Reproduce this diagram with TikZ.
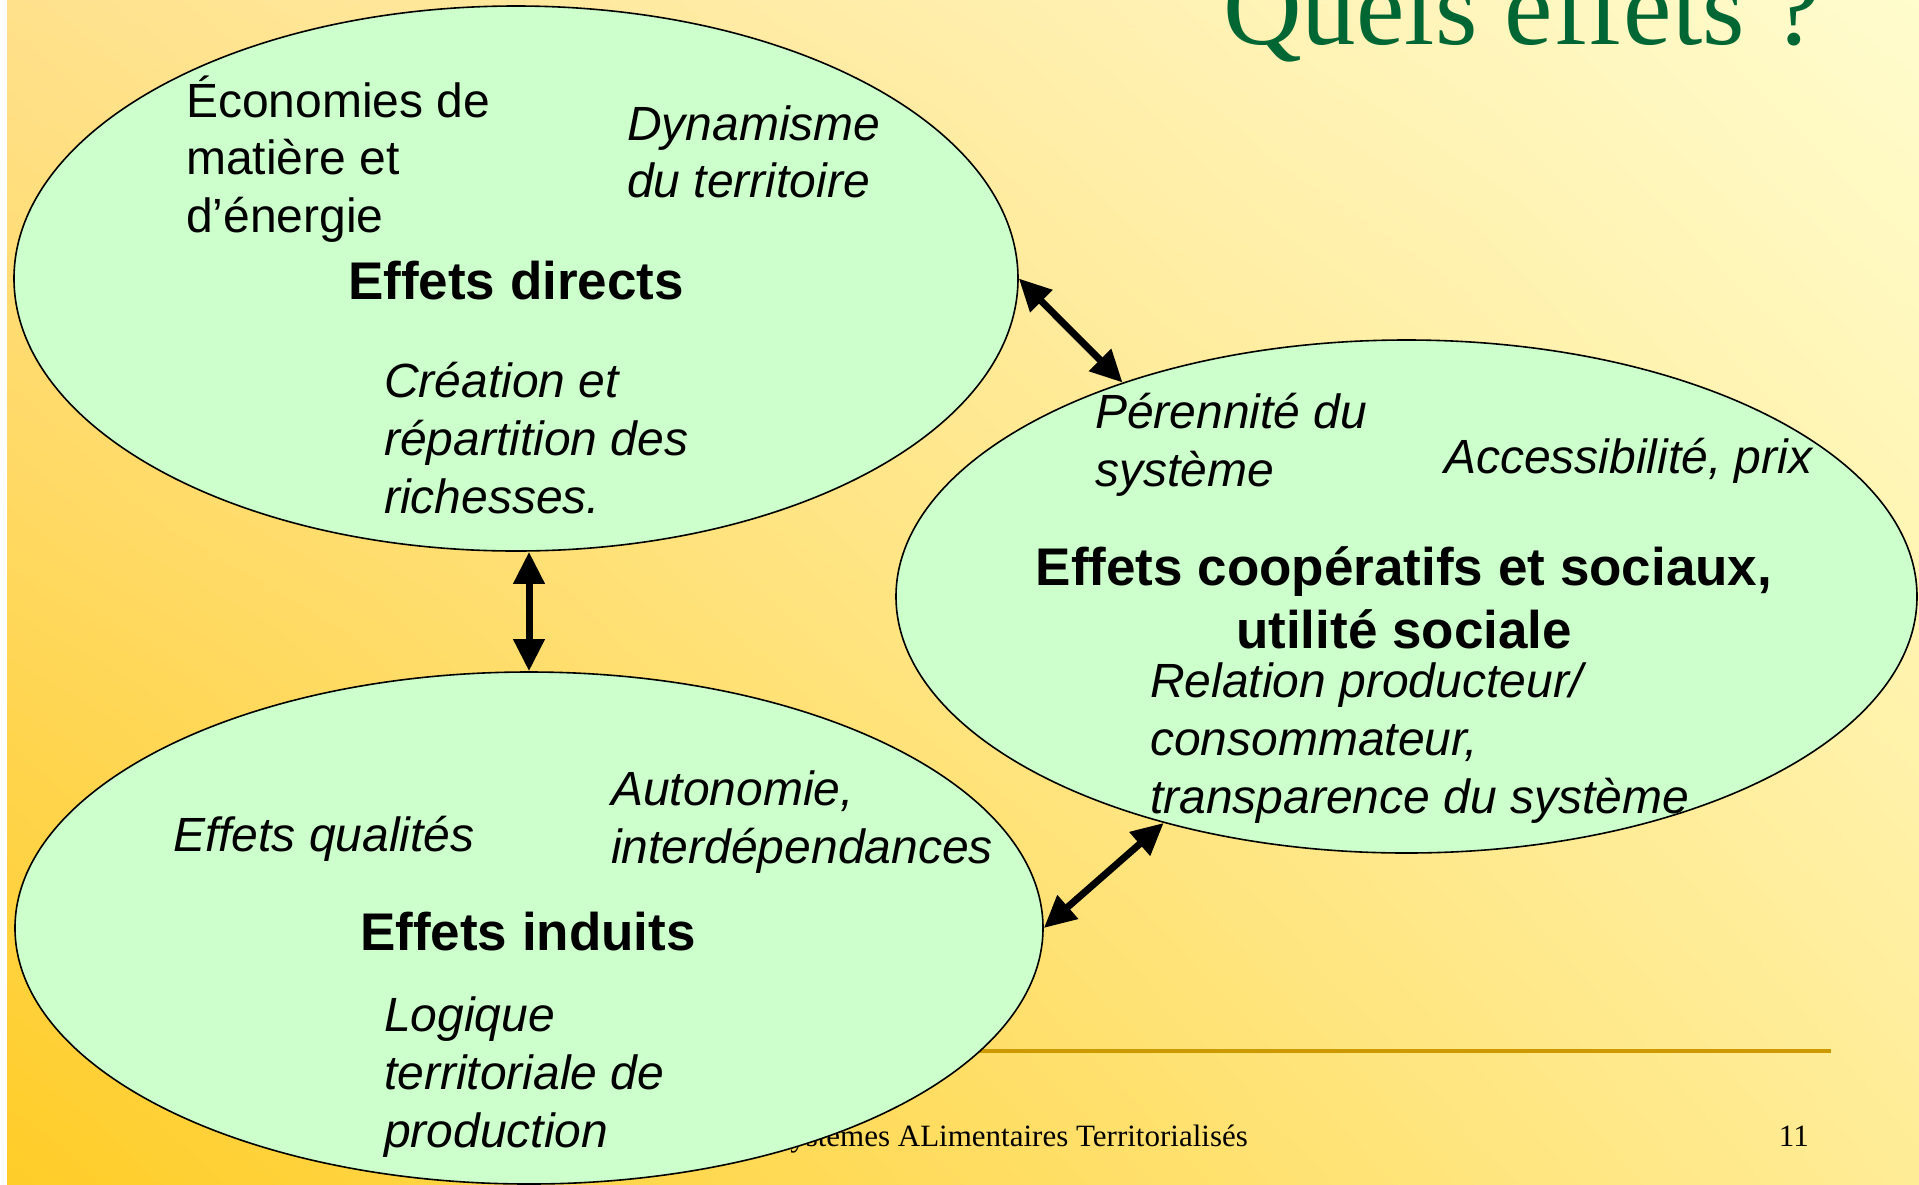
\documentclass[tikz,border=0pt]{standalone}
\usepackage{fontspec}
\setmainfont{Liberation Sans}
\newfontfamily\titleserif{Liberation Serif}
\usetikzlibrary{shapes.geometric,arrows.meta,shadings}
\definecolor{bgUL}{RGB}{255,225,140}
\definecolor{bgUR}{RGB}{255,252,205}
\definecolor{bgLL}{RGB}{255,205,40}
\definecolor{bgLR}{RGB}{255,236,150}
\definecolor{bubblegreen}{RGB}{204,255,204}
\definecolor{titlegreen}{RGB}{0,102,51}
\definecolor{footgold}{RGB}{204,153,0}
\begin{document}
\begin{tikzpicture}[x=1pt,y=-1pt,
  bubble/.style={ellipse, draw=black, line width=1.6pt, fill=bubblegreen, inner sep=0pt},
  plainlbl/.style={inner sep=0pt, align=left, anchor=west, font=\fontsize{48}{57.6}\selectfont},
  slantlbl/.style={inner sep=0pt, align=left, anchor=west, font=\fontsize{48}{57.6}\selectfont\itshape},
  heading/.style={inner sep=0pt, align=center, font=\fontsize{53}{63.6}\selectfont\bfseries},
  link/.style={line width=7pt, {Triangle[length=32pt,width=30pt]}-{Triangle[length=32pt,width=30pt]}},
  footline/.style={line width=4pt, draw=footgold},
  foottext/.style={inner sep=0pt, anchor=base east, font=\titleserif\fontsize{31}{31}\selectfont}
]
\useasboundingbox (0,0) rectangle (1919,1184);
\fill[white] (0,0) rectangle (1919,1184);
\shade[upper left=bgUL, upper right=bgUR, lower left=bgLL, lower right=bgLR] (7,0) rectangle (1919,1184);

% title
\node[anchor=base west, inner sep=0pt, text=titlegreen, font=\titleserif\fontsize{109}{109}\selectfont] (title) at (1223,44) {Quels effets ?};

% footer
\draw[footline] (90,1051) -- (1831,1051);
\node[foottext] (foot) at (1248,1146) {Systèmes ALimentaires Territorialisés};
\node[foottext] (pagenum) at (1809,1146) {11};

% bubbles
\node[bubble, minimum width=1004pt, minimum height=545pt] (e1) at (516,278.5) {};
\node[bubble, minimum width=1021pt, minimum height=513pt] (e2) at (1406.5,596.5) {};
\node[bubble, minimum width=1028pt, minimum height=512pt] (e3) at (529,928) {};

% texts of bubble 1
\node[plainlbl] (t1) at (186,159) {Économies de\\matière et\\d’énergie};
\node[slantlbl] (t2) at (627,152) {Dynamisme\\du territoire};
\node[heading] (h1) at (516,281) {Effets directs};
\node[slantlbl] (t3) at (384,438) {Création et\\répartition des\\richesses.};

% texts of bubble 2
\node[slantlbl] (t4) at (1095,445) {Pérennité du\\système};
\node[slantlbl] (t5) at (1444,461) {Accessibilité, prix};
\node[heading] (h2) at (1404,598) {Effets coopératifs et sociaux,\\utilité sociale};
\node[slantlbl] (t6) at (1150,743) {Relation producteur/\\consommateur,\\transparence du système};

% texts of bubble 3
\node[slantlbl] (t7) at (173,839) {Effets qualités};
\node[slantlbl] (t8) at (611,822) {Autonomie,\\interdépendances};
\node[heading] (h3) at (528,932) {Effets induits};
\node[slantlbl] (t9) at (384,1077) {Logique\\territoriale de\\production};

% arrows
\draw[link] (e1.south -| e3.north) -- (e3.north);
\draw[link] (e1.east) -- (e2.143.6);
\draw[link] (e3.east) -- (e2.223.2);
\end{tikzpicture}
\end{document}
